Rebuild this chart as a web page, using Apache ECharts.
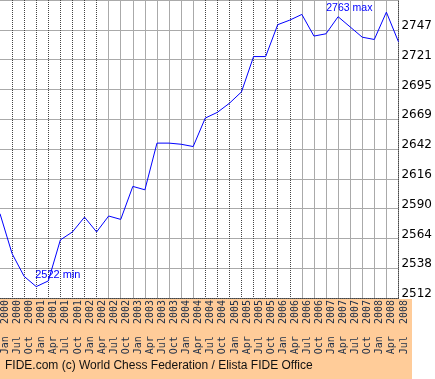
<!DOCTYPE html>
<html>
<head>
<meta charset="utf-8">
<script src="https://cdn.jsdelivr.net/npm/echarts@6/dist/echarts.min.js"></script>
<style>
html,body{margin:0;padding:0;background:#fff;}
#c{width:435px;height:379px;}
</style>
</head>
<body>
<div id="c"></div>
<script>
// ---- data ----
const months = ['Jan','Jul','Oct','Jan','Apr','Jul','Oct','Jan','Apr','Jul','Oct','Jan','Apr','Jul','Oct','Jan','Apr','Jul','Oct','Jan','Apr','Jul','Oct','Jan','Apr','Jul','Oct','Jan','Apr','Jul','Oct','Jan','Apr','Jul'];
const years = ['2000','2000','2000','2001','2001','2001','2001','2002','2002','2002','2002','2003','2003','2003','2003','2004','2004','2004','2004','2005','2005','2005','2005','2006','2006','2006','2006','2007','2007','2007','2007','2008','2008','2008'];
const ratings = [2586,2551,2531,2522,2527,2563,2570,2583,2570,2584,2581,2610,2607,2648,2648,2647,2645,2670,2675,2683,2693,2724,2724,2752,2756,2761,2742,2744,2759,2750,2741,2739,2763,2737];
const yTickLabels = ['2512','2538','2564','2590','2616','2642','2669','2695','2721','2747'];
const footer = 'FIDE.com (c) World Chess Federation / Elista FIDE Office';

const categories = months.map((m, i) => m + '  ' + years[i]);
const yMin = 2512;
const yStep = 2512 / 96;
const yMax = yMin + 10 * yStep;

// grid line groups (solid gray vs dotted dark verticals)
const solidIdx = i => (i >= 9 && i <= 16) || (i >= 25 && i <= 32);
const dottedIdx = i => i > 0 && !solidIdx(i) && i < categories.length - 1;

const chart = echarts.init(document.getElementById('c'), null, {renderer: 'canvas'});
chart.setOption({
  animation: false,
  backgroundColor: '#ffffff',
  graphic: [
    {type: 'rect', z: -10, silent: true, shape: {x: 0, y: 299, width: 412, height: 80}, style: {fill: '#FFCC99'}},
    {type: 'text', z: 10, left: 5, top: 360, style: {text: footer, font: '12px "Liberation Sans", Arial, sans-serif', fill: '#111111'}}
  ],
  grid: {left: 0, right: 36, top: -2, bottom: 81, containLabel: false},
  xAxis: [{
    type: 'category',
    data: categories,
    boundaryGap: false,
    position: 'bottom',
    axisLine: {show: true, lineStyle: {color: '#444', type: 'dotted', width: 1}},
    axisTick: {show: false},
    axisLabel: {
      interval: 0, rotate: 90, margin: 2,
      fontFamily: 'DejaVu Sans Mono', fontSize: 10, color: '#203048',
      verticalAlign: 'top', lineHeight: 11
    },
    splitLine: {show: true, interval: (i) => solidIdx(i), lineStyle: {color: '#aaaaaa', width: 1, type: 'solid'}}
  }, {
    type: 'category',
    data: categories,
    boundaryGap: false,
    position: 'bottom',
    axisLine: {show: false},
    axisTick: {show: false},
    axisLabel: {show: false},
    splitLine: {show: true, interval: (i) => dottedIdx(i), lineStyle: {color: '#444', width: 1, type: 'dotted'}}
  }],
  yAxis: {
    type: 'value',
    position: 'right',
    min: yMin,
    max: yMax,
    interval: yStep,
    axisLine: {show: true, lineStyle: {color: '#444', type: 'dotted', width: 1}},
    axisTick: {show: false},
    splitLine: {show: true, lineStyle: {color: '#aaaaaa', width: 1}},
    axisLabel: {
      margin: 3, showMaxLabel: false,
      fontFamily: 'DejaVu Sans', fontSize: 12, color: '#000',
      verticalAlign: 'bottom', lineHeight: 8,
      formatter: (v) => {
        const k = Math.round((v - yMin) / yStep);
        return yTickLabels[k] !== undefined ? yTickLabels[k] : '';
      }
    }
  },
  series: [{
    type: 'line',
    data: ratings,
    showSymbol: false,
    symbol: 'none',
    lineStyle: {color: '#0000ff', width: 1},
    z: 5,
    markPoint: {
      symbol: 'circle',
      symbolSize: 0,
      data: [
        {type: 'min', label: {show: true, formatter: '{c} min', position: 'inside', align: 'left', verticalAlign: 'middle', offset: [-1, -12], fontSize: 11}},
        {type: 'max', label: {show: true, formatter: '{c} max', position: 'inside', align: 'right', verticalAlign: 'middle', offset: [-14, -4], fontSize: 10.5}}
      ],
      label: {color: '#0000ff', fontFamily: 'Liberation Sans', fontSize: 11}
    }
  }]
});
</script>
</body>
</html>
